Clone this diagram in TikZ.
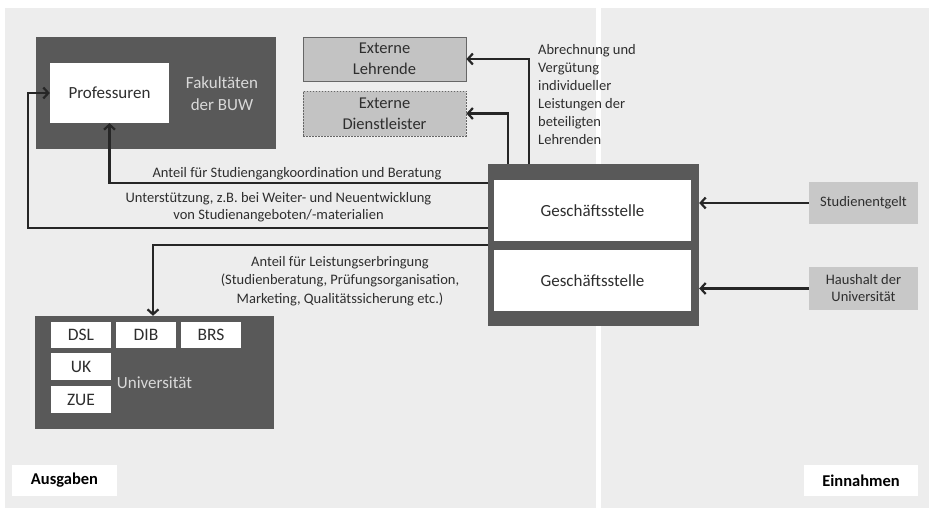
\documentclass[tikz,border=0pt]{standalone}
\usepackage{fontspec}
\setmainfont{Carlito}
\usetikzlibrary{arrows.meta,calc}
\definecolor{panel}{HTML}{EDEDED}
\definecolor{darkbox}{HTML}{595959}
\definecolor{midbox}{HTML}{C3C3C3}
\definecolor{srcbox}{HTML}{C8C8C8}
\definecolor{ink}{HTML}{262626}
\definecolor{txt}{HTML}{2E2E2E}
\definecolor{pale}{HTML}{D9D9D9}
\tikzset{
  darkfill/.style={fill=darkbox, draw=none, inner sep=0pt},
  whitebox/.style={fill=white, draw=none, inner sep=0pt, text=txt, font=\fontsize{17}{20}\selectfont},
  smallbox/.style={whitebox, minimum width=60pt, minimum height=26pt, font=\fontsize{17.5}{20}\selectfont},
  extbox/.style={fill=midbox, draw=gray!80!black, line width=0.8pt, inner sep=0pt, align=center,
    minimum width=163pt, minimum height=44pt, text=txt, font=\fontsize{16.5}{21}\selectfont},
  srcnode/.style={fill=srcbox, draw=none, inner sep=0pt, align=center, minimum width=109pt,
    text=txt, font=\fontsize{14.5}{17}\selectfont},
  flow/.style={draw=ink, line width=2.6pt, line join=miter,
    -{Straight Barb[length=5pt,width=11pt,line width=2.2pt]}},
  lbl/.style={text=txt, align=center, inner sep=0pt, font=\fontsize{14.5}{17.5}\selectfont},
  tag/.style={fill=white, inner sep=0pt, text=black, font=\bfseries\fontsize{16.5}{18}\selectfont}
}
\begin{document}
\begin{tikzpicture}[x=1pt, y=-1pt]
  \useasboundingbox (0,0) rectangle (929,508);
  \fill[white] (0,0) rectangle (929,508);
  % expenditure and income panels
  \fill[panel] (5,8) rectangle (596,508);
  \fill[panel] (601,8) rectangle (929,508);

  % faculties
  \node[darkfill, minimum width=240pt, minimum height=112pt] (fak) at (156,93) {};
  \node[whitebox, minimum width=119pt, minimum height=60pt] (prof) at (109.5,93) {Professuren};
  \node[text=pale, align=center, inner sep=0pt, font=\fontsize{17}{22}\selectfont] (faktxt) at (222,94) {Fakultäten\\der BUW};

  % external parties
  \node[extbox] (extl) at (384.5,59) {Externe\\Lehrende};
  \node[extbox, dashed, dash pattern=on 1.5pt off 1.5pt, minimum height=45pt] (extd) at (384.5,113.5) {Externe\\Dienstleister};

  % central office
  \node[darkfill, minimum width=211pt, minimum height=162pt] (gso) at (593.5,245) {};
  \node[whitebox, minimum width=197pt, minimum height=61pt] (gs1) at (592.5,210.5) {Geschäftsstelle};
  \node[whitebox, minimum width=197pt, minimum height=61pt] (gs2) at (592.5,280.5) {Geschäftsstelle};

  % sources of income
  \node[srcnode, minimum height=42pt] (stud) at (863.5,203) {Studienentgelt};
  \node[srcnode, minimum height=43pt] (haus) at (863.5,288.5) {Haushalt der\\Universität};

  % university units
  \node[darkfill, minimum width=239pt, minimum height=113pt] (uni) at (154.5,372.5) {};
  \node[smallbox] (dsl) at (81,335) {DSL};
  \node[smallbox] (dib) at (146,335) {DIB};
  \node[smallbox] (brs) at (211,335) {BRS};
  \node[smallbox, minimum height=27pt] (uk) at (81,366.5) {UK};
  \node[smallbox, minimum height=27pt] (zue) at (81,399.5) {ZUE};
  \node[text=pale, inner sep=0pt, font=\fontsize{17}{20}\selectfont] (unitxt) at (154.5,383) {Universität};

  % panel tags
  \node[tag, minimum width=105pt, minimum height=31pt] (ausg) at (64.5,480.5) {Ausgaben};
  \node[tag, minimum width=114pt, minimum height=31pt] (einn) at (861,480.5) {Einnahmen};

  % payment flows
  \coordinate (pl) at ($(gso.north west)+(41,0)$);
  \coordinate (pd) at ($(gso.north west)+(20,0)$);
  \draw[flow] (pl) |- (extl.east);
  \draw[flow] (pd) |- (extd.east);
  \draw[flow] ($(gso.north west)+(0,19)$) -| (prof.south);
  \coordinate (bend) at ($(gso.north west)+(-460,64)$);
  \draw[flow] ($(gso.north west)+(0,64)$) -- (bend) |- (prof.west);
  \draw[flow] ($(gso.north west)+(0,81)$) -| ($(uni.north)+(-1.5,0)$);
  \draw[flow] (stud.west) -- (stud.west -| gso.east);
  \draw[flow] (haus.west) -- (haus.west -| gso.east);

  % flow labels
  \node[lbl, align=left, anchor=north west, font=\fontsize{14.5}{18}\selectfont] (abr) at (538,44.5) {Abrechnung und\\Vergütung\\individueller\\Leistungen der\\beteiligten\\Lehrenden};
  \node[lbl] (koord) at (297,174) {Anteil für Studiengangkoordination und Beratung};
  \node[lbl] (unterst) at (278.5,207) {Unterstützung, z.B. bei Weiter- und Neuentwicklung\\von Studienangeboten/-materialien};
  \node[lbl, font=\fontsize{14.5}{18.5}\selectfont] (leist) at (340,281) {Anteil für Leistungserbringung\\(Studienberatung, Prüfungsorganisation,\\Marketing, Qualitätssicherung etc.)};
\end{tikzpicture}
\end{document}
